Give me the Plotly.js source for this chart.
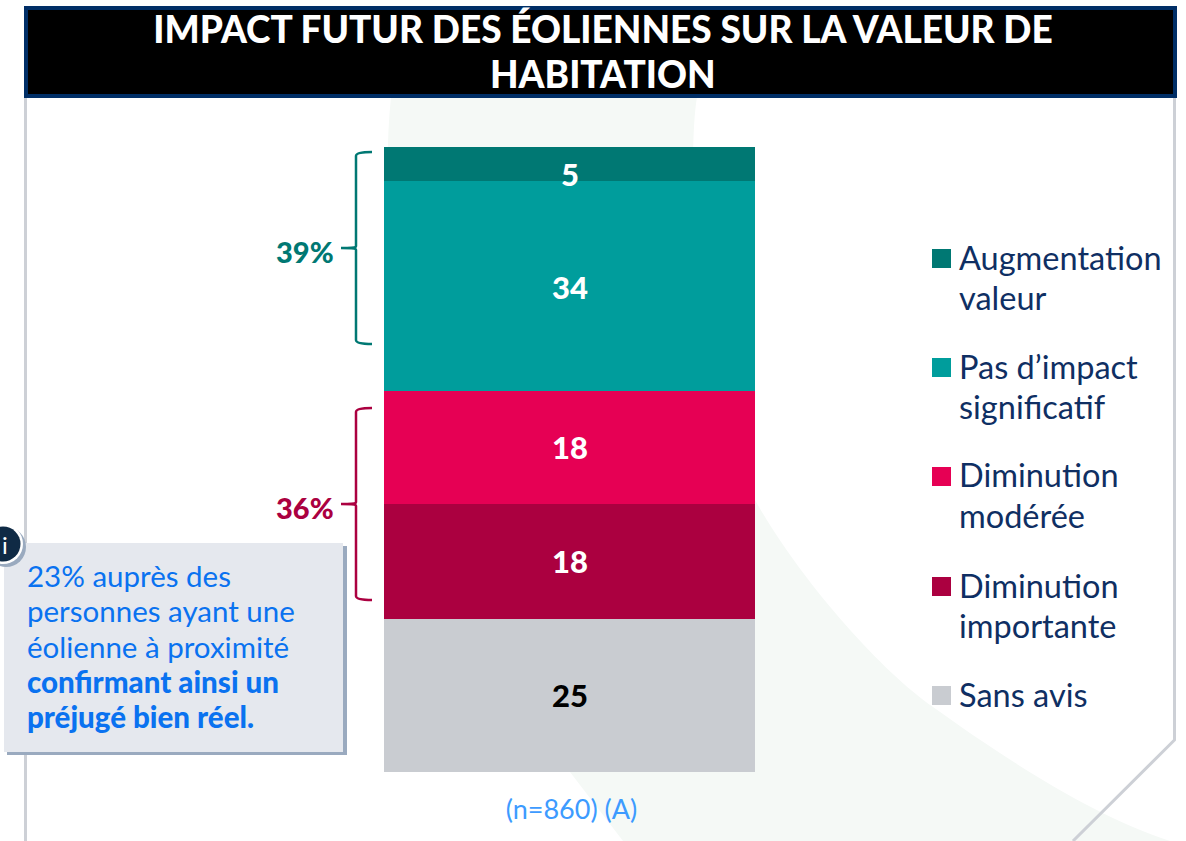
<!DOCTYPE html>
<html lang="fr">
<head>
<meta charset="utf-8">
<script src="https://cdn.plot.ly/plotly-3.0.1.min.js"></script>
<style>html,body{margin:0;padding:0;background:#fff}#chart{width:1186px;height:841px}</style>
</head>
<body>
<div id="chart"></div>
<script>
// DATA
const category = ["(n=860) (A)"];
const seriesNames = ["Sans avis", "Diminution importante", "Diminution modérée", "Pas d’impact significatif", "Augmentation valeur"];
const seriesValues = [24.5, 18.4, 18.1, 33.6, 5.4];
const seriesLabels = ["25", "18", "18", "34", "5"];
const seriesColors = ["#c9ccd1", "#ab0040", "#e60054", "#009d9c", "#007873"];
const labelColors = ["#000000", "#ffffff", "#ffffff", "#ffffff", "#ffffff"];
const labelShifts = [0, 0, 0, -1, -10];
const legendOrder = [
  ["Augmentation", "valeur"], ["Pas d’impact", "significatif"], ["Diminution", "modérée"],
  ["Diminution", "importante"], ["Sans avis"]
];
const legendColors = ["#007873", "#009d9c", "#e60054", "#ab0040", "#c9ccd1"];
const legendRows = [259, 368, 477, 587, 696];
const titleLine1 = "IMPACT FUTUR DES ÉOLIENNES SUR LA VALEUR DE";
const titleLine2 = "HABITATION";
const noteLines = ["23% auprès des", "personnes ayant une", "éolienne à proximité", "confirmant ainsi un", "préjugé bien réel."];
const noteRows = [577, 612, 648, 683, 718];
const groupLabels = ["39%", "36%"];

const FONT = "Lato, 'Noto Sans', sans-serif";
const L = 384, R = 755, T = 147, B = 772;
const px = x => (x - L) / (R - L);
const py = y => (B - y) / (B - T);
const pt = (x, y) => px(x) + "," + py(y);
const rect = (x0, y0, x1, y1, fill, line, lw, layer) => ({
  type: "rect", xref: "paper", yref: "paper", x0: px(x0), x1: px(x1), y0: py(y0), y1: py(y1),
  fillcolor: fill, line: { color: line || fill, width: lw || 0 }, layer: layer || "above"
});
const pathShape = (d, fill, line, lw, layer) => ({
  type: "path", xref: "paper", yref: "paper", path: d,
  fillcolor: fill || "rgba(0,0,0,0)", line: { color: line || "rgba(0,0,0,0)", width: lw || 0 }, layer: layer || "below"
});
const circle = (cx, cy, r, fill) => ({
  type: "circle", xref: "paper", yref: "paper", x0: px(cx - r), x1: px(cx + r), y0: py(cy + r), y1: py(cy - r),
  fillcolor: fill, line: { width: 0 }, layer: "above"
});
const text = (x, y, t, size, color, anchor, weight) => ({
  xref: "paper", yref: "paper", x: px(x), y: py(y), text: t, showarrow: false,
  xanchor: anchor || "left", yanchor: "middle", align: "left",
  font: { family: FONT, size: size, color: color, weight: weight || 400 }
});

const traces = seriesNames.map((n, i) => ({
  type: "bar", name: n, x: category, y: [seriesValues[i]],
  marker: { color: seriesColors[i], line: { width: 0 } },
  width: 1, showlegend: false, hoverinfo: "name+y"
}));

let cum = 0;
const valueLabels = seriesValues.map((v, i) => {
  const mid = cum + v / 2; cum += v;
  return {
    xref: "x", yref: "y", x: 0, y: mid, text: seriesLabels[i], showarrow: false,
    yshift: labelShifts[i], xanchor: "center", yanchor: "middle",
    font: { family: FONT, size: 31, color: labelColors[i], weight: 900 }
  };
});

const brace = (top, bottom, mid) =>
  "M" + pt(372, top) + " C" + pt(364, top) + " " + pt(356, top + 1) + " " + pt(356, top + 4) +
  " L" + pt(356, mid - 2) + " C" + pt(356, mid) + " " + pt(352, mid) + " " + pt(341, mid) +
  " M" + pt(341, mid) + " C" + pt(352, mid) + " " + pt(356, mid) + " " + pt(356, mid + 2) +
  " L" + pt(356, bottom - 4) + " C" + pt(356, bottom - 1) + " " + pt(364, bottom) + " " + pt(372, bottom);

const background = "M" + pt(391, 97) + " L" + pt(697, 97) + " C" + pt(688, 150) + " " + pt(690, 340) + " " + pt(755, 500) +
  " C" + pt(800, 580) + " " + pt(880, 670) + " " + pt(933, 707) +
  " C" + pt(1000, 755) + " " + pt(1090, 815) + " " + pt(1170, 841) +
  " L" + pt(623, 841) + " L" + pt(570, 772) + " C" + pt(450, 600) + " " + pt(370, 300) + " " + pt(391, 97) + " Z";

const shapes = [
  pathShape(background, "#f5f9f6", null, 0, "below"),
  pathShape("M" + pt(25.5, 97) + " L" + pt(25.5, 841), null, "#cdd0d6", 3, "below"),
  pathShape("M" + pt(1174.5, 97) + " L" + pt(1174.5, 740) + " L" + pt(1073, 841), null, "#cdd0d6", 3, "below"),
  rect(26, 8, 1175, 96, "#000000", "#002e66", 4, "below"),
  pathShape(brace(152, 344, 248), null, "#007873", 2.5, "below"),
  pathShape(brace(408, 600, 504), null, "#ab0040", 2.5, "below"),
  rect(7, 546, 347, 755, "#9aaabf", null, 0),
  rect(4, 543, 343, 752, "#e5e8ee", null, 0),
  circle(6, 547, 20, "#9aaabf"),
  circle(3, 544, 20, "#ffffff"),
  circle(3, 544, 17.5, "#0f2a45")
];
legendOrder.forEach((_, i) => shapes.push(rect(932, legendRows[i] - 10, 951, legendRows[i] + 9, legendColors[i], null, 0)));

const annotations = valueLabels.slice();
annotations.push(text(336, 251, groupLabels[0], 29, "#007873", "right", 900));
annotations.push(text(336, 507, groupLabels[1], 29, "#ab0040", "right", 900));
noteLines.forEach((l, i) => annotations.push(text(25, noteRows[i] - 2, l, i < 3 ? 29.5 : 29.5, "#0a72f0", "left", i < 3 ? 400 : 900)));
annotations.push(text(5, 544, "i", 24, "#ffffff", "center"));
legendOrder.forEach((lines, i) => {
  lines.forEach((l, j) => annotations.push(text(957, legendRows[i] + j * 40 - 2, l, 32.5, "#0f2f63")));
});
annotations.push(text(603, 74, titleLine2, 37, "#ffffff", "center", 900));

const layout = {
  width: 1186, height: 841,
  margin: { l: L, r: 1186 - R, t: T, b: 841 - B, pad: 0 },
  paper_bgcolor: "#ffffff", plot_bgcolor: "rgba(0,0,0,0)",
  barmode: "stack", showlegend: false,
  title: {
    text: titleLine1, x: 603 / 1186, xanchor: "center",
    y: 1 - 30 / 841, yanchor: "middle",
    font: { family: FONT, size: 37, color: "#ffffff", weight: 900 }
  },
  xaxis: {
    type: "category", range: [-0.5, 0.5], showgrid: false, zeroline: false, showline: false,
    ticks: "", ticklabelstandoff: 19, ticklabelshift: 2,
    tickfont: { family: FONT, size: 27, color: "#3d9bff" }
  },
  yaxis: { range: [0, 100], visible: false, showgrid: false, zeroline: false },
  shapes: shapes, annotations: annotations
};
Plotly.newPlot("chart", traces, layout, { displayModeBar: false, responsive: false });
</script>
</body>
</html>
